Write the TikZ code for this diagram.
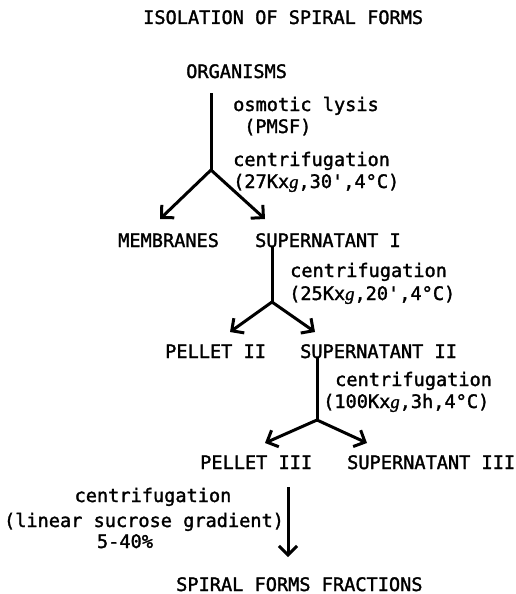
\documentclass[tikz,border=0pt]{standalone}
\usepackage{fontspec}
\newfontfamily\tw[FakeBold=1.6]{DejaVu Sans Mono}
\newfontfamily\gf[FakeBold=1.6]{Liberation Serif}
\usetikzlibrary{arrows.meta}
\newcommand{\gi}{{\gf\itshape g}}
\begin{document}
\begin{tikzpicture}[x=1pt,y=-1pt,
  txt/.style={font=\tw\fontsize{18.6}{22}\selectfont, inner sep=0pt, anchor=base west},
  flow/.style={line width=3pt},
  arr/.style={flow, -{Straight Barb[length=9pt,width=18pt,line width=3pt]}}]
\useasboundingbox (0,0) rectangle (515,594);
\node[txt] (title) at (143,24) {ISOLATION OF SPIRAL FORMS};
\node[txt] (org) at (186,78) {ORGANISMS};
\node[txt] (l1a) at (233,111) {osmotic lysis};
\node[txt] (l1b) at (244,133) {(PMSF)};
\node[txt] (l1c) at (233,166) {centrifugation};
\node[txt] (l1d) at (233,188) {(27Kx\gi,30',4°C)};
\node[txt] (mem) at (118,247) {MEMBRANES};
\node[txt] (sup1) at (255,247) {SUPERNATANT I};
\node[txt] (l2a) at (290,277) {centrifugation};
\node[txt] (l2b) at (289,300) {(25Kx\gi,20',4°C)};
\node[txt] (pel2) at (165,358) {PELLET II};
\node[txt] (sup2) at (300,358) {SUPERNATANT II};
\node[txt] (l3a) at (335,386) {centrifugation};
\node[txt] (l3b) at (323,408) {(100Kx\gi,3h,4°C)};
\node[txt] (pel3) at (200,469) {PELLET III};
\node[txt] (sup3) at (347,469) {SUPERNATANT III};
\node[txt,anchor=base] (l4a) at (153,502) {centrifugation};
\node[txt,anchor=base] (l4b) at (144,527) {(linear sucrose gradient)};
\node[txt,anchor=base] (l4c) at (125,548) {5-40\%};
\node[txt] (frac) at (176,591) {SPIRAL FORMS FRACTIONS};
% junctions and arrow tips
\coordinate (j1) at (211,170);
\coordinate (t1l) at (160,219);
\coordinate (t1r) at (265,219);
\coordinate (j2) at (272,302);
\coordinate (t2l) at (230,332);
\coordinate (t2r) at (315,332);
\coordinate (j3) at (317,420);
\coordinate (t3l) at (265,443);
\coordinate (t3r) at (367,443);
\coordinate (j4) at (288,469);
\coordinate (t4) at (288,557);
\draw[flow,shorten <=15pt] (org.south -| j1) -- (j1);
\draw[arr] (j1) -- (t1l);
\draw[arr] (j1) -- (t1r);
\draw[flow] (sup1.south -| j2) -- (j2);
\draw[arr] (j2) -- (t2l);
\draw[arr] (j2) -- (t2r);
\draw[flow] (sup2.south -| j3) -- (j3);
\draw[arr] (j3) -- (t3l);
\draw[arr] (j3) -- (t3r);
\draw[arr,shorten <=18pt] (pel3.south -| j4) -- (t4);
\end{tikzpicture}
\end{document}
